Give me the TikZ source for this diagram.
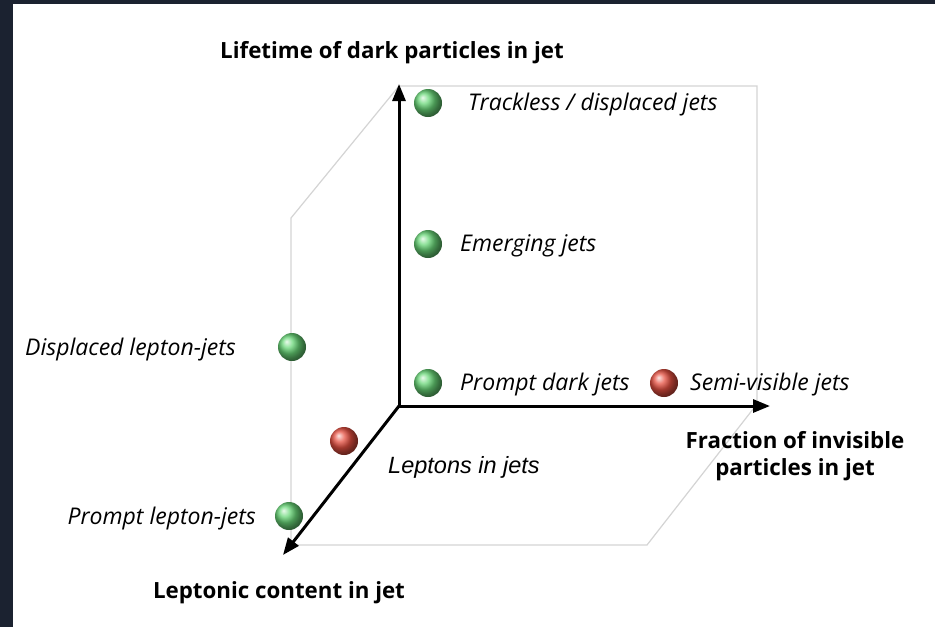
\documentclass[tikz,border=0pt]{standalone}
\usepackage{fontspec}
\setmainfont{Open Sans}
\newfontfamily\arialfont{Liberation Sans}
\usetikzlibrary{arrows.meta}
\definecolor{frame}{HTML}{1B2230}
\definecolor{boxgrey}{HTML}{D4D4D4}
\definecolor{ballgreen}{RGB}{105,215,120}
\definecolor{ballred}{RGB}{230,80,65}
\tikzset{
  axis/.style={line width=3pt,-{Triangle[length=17pt,width=13pt]}},
  boxline/.style={draw=boxgrey,line width=1.2pt},
  gball/.style={circle,minimum size=28pt,inner sep=0pt,shading=ball,ball color=ballgreen},
  rball/.style={circle,minimum size=28pt,inner sep=0pt,shading=ball,ball color=ballred},
  lbl/.style={font=\fontsize{23}{26}\selectfont\itshape,inner sep=0pt},
  axlbl/.style={font=\fontsize{22.3}{27}\selectfont\bfseries,inner sep=0pt,align=center},
}
\begin{document}
\begin{tikzpicture}[x=1pt,y=-1pt]
\useasboundingbox (0,0) rectangle (935,627);
\fill[frame] (0,0) rectangle (935,627);
\fill[white] (13,4) rectangle (935,627);
% coordinates
\coordinate (O) at (399,406);
\coordinate (T) at (399,84);
\coordinate (X) at (770,406);
\coordinate (Z) at (283,555);
\coordinate (b1) at (399,86);
\coordinate (b2) at (757,86);
\coordinate (b3) at (757,404);
\coordinate (b4) at (647,545);
\coordinate (b5) at (291,545);
\coordinate (b6) at (291,218);
% grey box
\draw[boxline] (b1) -- (b2) -- (b3) -- (b4) -- (b5) -- (b6) -- (b1);
% axes
\draw[axis] (O) -- (T);
\draw[axis] (O) -- (X);
\draw[axis] (O) -- (Z);
% balls
\node[gball] (trk) at (428,103) {};
\node[gball] (emj) at (428,244) {};
\node[gball] (pdj) at (428,383) {};
\node[rball] (svj) at (664,383) {};
\node[gball] (dlj) at (292,347) {};
\node[rball] (lij) at (344,441) {};
\node[gball] (plj) at (289,516) {};
% labels
\node[lbl,anchor=west] (ltrk) at (468,105) {Trackless / displaced jets};
\node[lbl,anchor=west] (lemj) at (460,246) {Emerging jets};
\node[lbl,anchor=west] (lpdj) at (460,385) {Prompt dark jets};
\node[lbl,anchor=west] (lsvj) at (690,385) {Semi-visible jets};
\node[lbl,anchor=east] (ldlj) at (236,350) {Displaced lepton-jets};
\node[lbl,anchor=east] (lplj) at (256,519) {Prompt lepton-jets};
\node[lbl,anchor=west,font=\fontsize{23.5}{26}\selectfont\arialfont\itshape] (llij) at (388,467) {Leptons in jets};
% axis labels
\node[axlbl] (ay) at (392,53) {Lifetime of dark particles in jet};
\node[axlbl] (ax) at (795,456) {Fraction of invisible\\particles in jet};
\node[axlbl] (az) at (279,593) {Leptonic content in jet};
\end{tikzpicture}
\end{document}
